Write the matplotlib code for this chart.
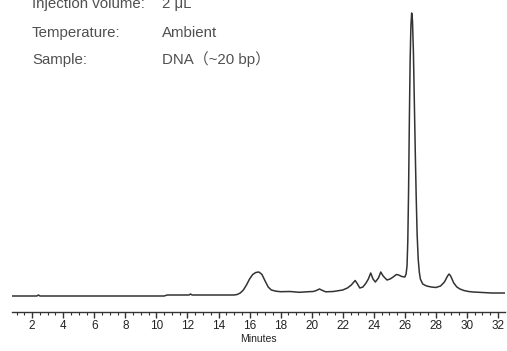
import numpy as np
import matplotlib
matplotlib.use('Agg')
import matplotlib.pyplot as plt
from matplotlib.ticker import MultipleLocator

# chromatogram: time [min], signal [arb., baseline = 0]
time = [0.7, 2.3, 2.4, 2.5, 10.5, 10.7, 12.1, 12.2, 12.3, 15.0, 15.2, 15.4, 15.6, 15.8,
        16.0, 16.2, 16.4, 16.6, 16.8, 17.0, 17.2, 17.4, 17.7, 18.0, 18.6, 19.2, 19.8,
        20.1, 20.3, 20.5, 20.7, 20.9, 21.4, 22.0, 22.3, 22.55, 22.8, 22.95, 23.1, 23.3,
        23.5, 23.65, 23.8, 23.95, 24.1, 24.3, 24.45, 24.6, 24.85, 25.05, 25.25, 25.45,
        25.6, 25.8, 26.0, 26.08, 26.14, 26.19, 26.24, 26.29, 26.34, 26.39, 26.44, 26.49,
        26.55, 26.61, 26.67, 26.73, 26.79, 26.86, 26.93, 27.0, 27.15, 27.4, 27.7, 28.0,
        28.3, 28.55, 28.75, 28.85, 28.95, 29.15, 29.35, 29.55, 29.8, 30.1, 30.4, 31.0,
        31.6, 32.45]
signal = [0, 0, 1, 0, 0, 1, 1, 2, 1, 1, 1.5, 3, 6, 11,
          17, 21.5, 23.5, 24, 21.5, 15, 9, 6, 4.8, 4.3, 4.5, 3.7, 4.3,
          4.5, 5.5, 7, 5.5, 4.2, 4.5, 6, 8, 11, 15.5, 12, 8, 9,
          13, 17, 23, 17, 14, 18, 24, 20, 16, 17, 19, 21.5,
          21, 19.5, 19, 22, 30, 55, 105, 175, 235, 270, 283, 276,
          245, 195, 145, 100, 62, 37, 24, 17, 12, 10, 9, 8.5,
          10, 14, 20, 22, 20, 13, 9, 7, 5.5, 4.5, 4, 3.5,
          3, 3]

header_keys = ['Injection volume:', 'Temperature:', 'Sample:']
header_vals = ['2 \u03bcL', 'Ambient', 'DNA\uff08~20 bp\uff09']

fams = ['Liberation Sans Narrow', 'Liberation Sans', 'Noto Sans CJK SC']

fig = plt.figure(figsize=(5.07, 3.51), dpi=100, facecolor='w')
ax = fig.add_axes([12/507., 39/351., 493/507., 312/351.])

ax.plot(time, signal, color='#333333', lw=1.1, solid_joinstyle='round')

ax.set_xlim(0.7, 32.45)
ax.set_ylim(-16, 296)
for s in ['top', 'right', 'left']:
    ax.spines[s].set_visible(False)
ax.spines['bottom'].set_color('#333333')
ax.spines['bottom'].set_linewidth(1.0)
ax.set_yticks([])
ax.xaxis.set_major_locator(MultipleLocator(2))
ax.xaxis.set_minor_locator(MultipleLocator(0.5))
ax.tick_params(axis='x', which='major', length=4, width=1.0, color='#333333',
               labelsize=8.5, pad=2, labelcolor='#222222')
ax.tick_params(axis='x', which='minor', length=2.5, width=0.8, color='#333333')
ax.set_xticks(np.arange(2, 33, 2))
for lab in ax.get_xticklabels():
    lab.set_family(['Liberation Sans', 'DejaVu Sans'])
ax.set_xlabel('Minutes', fontsize=7.5, labelpad=1, color='#222222',
              family=['Liberation Sans', 'DejaVu Sans'])

# method header text
ys = [8, 37, 64]
for k, v, y in zip(header_keys, header_vals, ys):
    fig.text(32/507., 1 - y/351., k, fontsize=10.8, color='#505050', family=fams,
             va='baseline', ha='left')
    fig.text(162/507., 1 - y/351., v, fontsize=10.8, color='#505050', family=fams,
             va='baseline', ha='left')

fig.savefig('out.png', dpi=100)
